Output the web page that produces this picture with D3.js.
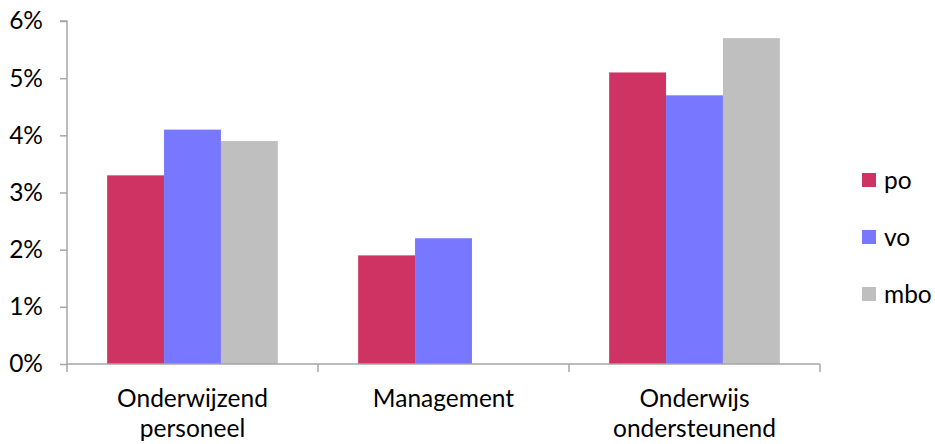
<!DOCTYPE html>
<html>
<head>
<meta charset="utf-8">
<script src="https://cdn.jsdelivr.net/npm/d3@7"></script>
<style>
  html, body { margin: 0; padding: 0; background: #fff; }
  svg { display: block; }
  text { font-family: Lato, "Open Sans", sans-serif; fill: #000; }
</style>
</head>
<body>
<svg id="chart" width="935" height="444"></svg>
<script>
// Categories (each label split over lines)
const categories = ["Onderwijzend personeel", "Management", "Onderwijs ondersteunend"];
const categoryLines = [["Onderwijzend", "personeel"], ["Management"], ["Onderwijs", "ondersteunend"]];
const seriesNames = ["po", "vo", "mbo"];
const seriesColors = ["#cf3363", "#7777ff", "#bfbfbf"];
// Percentages per series, one per category
const po  = [3.3, 1.9, 5.1];
const vo  = [4.1, 2.2, 4.7];
const mbo = [3.9, 0, 5.7];
const yTicks = [0, 1, 2, 3, 4, 5, 6];

const seriesValues = [po, vo, mbo];
const svg = d3.select("#chart");
const plotLeft = 67, plotRight = 820, plotTop = 21, plotBottom = 364;
const axisColor = "#a6a6a6";
const fontSize = "24.5px";

const x0 = d3.scaleBand().domain(categories).range([plotLeft, plotRight])
  .paddingInner(0.32).paddingOuter(0.16);
const x1 = d3.scaleBand().domain(seriesNames).range([0, x0.bandwidth()]);
const y = d3.scaleLinear().domain([0, 6]).range([plotBottom, plotTop]);

// Bars
categories.forEach((cat, ci) => {
  const g = svg.append("g").attr("transform", `translate(${x0(cat)},0)`);
  seriesNames.forEach((s, si) => {
    const v = seriesValues[si][ci];
    if (!v) return;
    g.append("rect")
      .attr("x", x1(s))
      .attr("y", y(v))
      .attr("width", x1.bandwidth())
      .attr("height", y(0) - y(v))
      .attr("fill", seriesColors[si]);
  });
});

// Y axis
const yAxis = d3.axisLeft(y).tickValues(yTicks).tickSize(7).tickPadding(17)
  .tickFormat(d => d + "%");
const yg = svg.append("g").attr("transform", `translate(${plotLeft},0)`).call(yAxis);
yg.select(".domain").attr("stroke", axisColor).attr("stroke-width", 1.5)
  .attr("d", `M-7,${plotTop}H0V${plotBottom}`);
yg.selectAll(".tick line").attr("stroke", axisColor).attr("stroke-width", 1.5);
yg.selectAll(".tick text").style("font-size", fontSize).attr("fill", "#000")
  .style("font-family", "Lato, 'Open Sans', sans-serif");

// X axis: baseline with ticks at category boundaries
const step = x0.step();
const xBounds = d3.range(categories.length + 1).map(i => plotLeft + i * step);
svg.append("line").attr("x1", plotLeft).attr("x2", plotRight).attr("y1", plotBottom).attr("y2", plotBottom)
  .attr("stroke", axisColor).attr("stroke-width", 1.5);
svg.selectAll(".xtick").data(xBounds).enter().append("line")
  .attr("x1", d => d).attr("x2", d => d).attr("y1", plotBottom).attr("y2", plotBottom + 8)
  .attr("stroke", axisColor).attr("stroke-width", 1.5);

// Category labels
categories.forEach((cat, ci) => {
  const cx = x0(cat) + x0.bandwidth() / 2;
  const t = svg.append("text").attr("text-anchor", "middle").style("font-size", fontSize);
  categoryLines[ci].forEach((line, li) => {
    t.append("tspan").attr("x", cx).attr("y", 407 + li * 30).text(line);
  });
});

// Legend
const legend = svg.append("g");
seriesNames.forEach((s, i) => {
  const cy = 180 + i * 57;
  legend.append("rect").attr("x", 862).attr("y", cy - 7).attr("width", 14).attr("height", 14)
    .attr("fill", seriesColors[i]);
  legend.append("text").attr("x", 884).attr("y", cy).attr("dy", "0.35em")
    .style("font-size", fontSize).text(s);
});
</script>
</body>
</html>
